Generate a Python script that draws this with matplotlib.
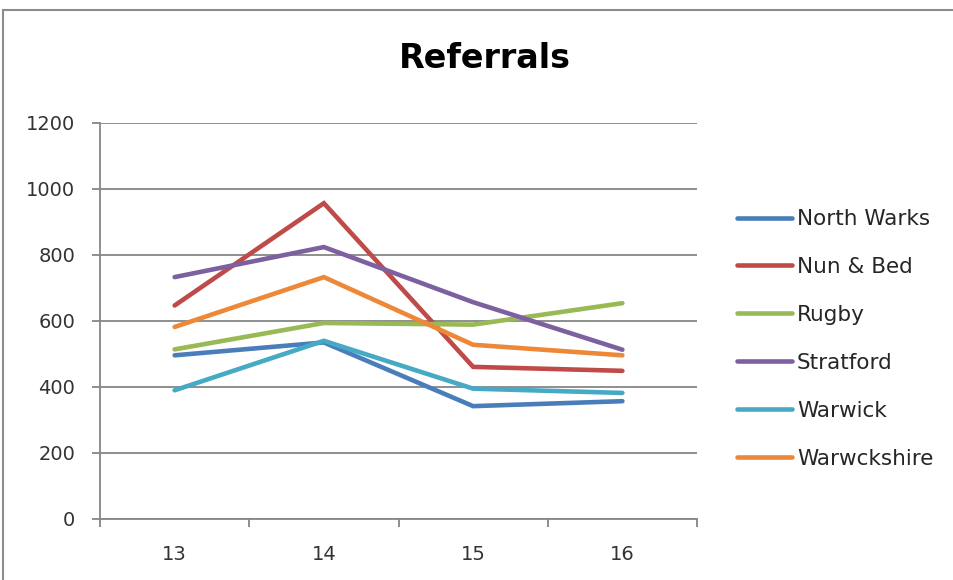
import matplotlib.pyplot as plt
from matplotlib.lines import Line2D

plt.rcParams['font.family'] = ['DejaVu Sans']

years = [13, 14, 15, 16]
north_warks = [496, 535, 342, 357]
nun_bed = [647, 957, 461, 449]
rugby = [514, 594, 589, 654]
stratford = [733, 824, 657, 513]
warwick = [390, 540, 395, 382]
warwickshire = [582, 733, 528, 496]

names = ["North Warks", "Nun & Bed", "Rugby", "Stratford", "Warwick", "Warwckshire"]
series = [north_warks, nun_bed, rugby, stratford, warwick, warwickshire]
colors = ['#4A7EBB', '#BE4B48', '#98B954', '#7D60A0', '#46AAC5', '#EC8838']

fig = plt.figure(figsize=(9.54, 5.8), dpi=100)
ax = fig.add_axes([100/954, 61/580, 597/954, 396/580])

for vals, name, c in zip(series, names, colors):
    ax.plot(years, vals, color=c, lw=3.3, label=name, solid_capstyle='round',
            solid_joinstyle='miter', zorder=3)

grid_c = '#868686'
ax.set_ylim(0, 1200)
ax.set_yticks(range(0, 1201, 200))
ax.yaxis.grid(True, color=grid_c, lw=1.3)
ax.set_axisbelow(True)

# category axis: ticks between categories, labels centred
ax.set_xlim(12.5, 16.5)
ax.set_xticks([12.5, 13.5, 14.5, 15.5, 16.5])
ax.set_xticklabels([])
ax.set_xticks(years, minor=True)
ax.set_xticklabels([str(y) for y in years], minor=True)
ax.tick_params(axis='x', which='minor', length=0, pad=19, labelsize=14, labelcolor='#333333')
ax.tick_params(axis='x', which='major', length=5.8, width=1.3, color=grid_c, direction='out')
ax.tick_params(axis='y', length=5.8, width=1.3, color=grid_c, direction='out',
               pad=12, labelsize=14, labelcolor='#333333')

for s in ['top', 'right']:
    ax.spines[s].set_visible(False)
for s in ['left', 'bottom']:
    ax.spines[s].set_color(grid_c)
    ax.spines[s].set_linewidth(1.3)

fig.suptitle('Referrals', x=485/954, y=1 - 42/580, va='top', fontsize=24, fontweight='bold')

leg = ax.legend(loc='center left', bbox_to_anchor=(737/954, 1 - 339/580),
                bbox_transform=fig.transFigure, frameon=False, fontsize=15.5,
                handlelength=2.55, handletextpad=0.23, labelspacing=1.3,
                borderpad=0, borderaxespad=0)
for t in leg.get_texts():
    t.set_color('#262626')

# chart border (only top and left are inside the picture)
fig.add_artist(Line2D([3/954, 1.05], [1 - 10/580, 1 - 10/580], color='#8c8c8c', lw=1.5,
                      transform=fig.transFigure))
fig.add_artist(Line2D([3/954, 3/954], [-0.05, 1 - 10/580], color='#8c8c8c', lw=1.5,
                      transform=fig.transFigure))

fig.savefig('out.png', dpi=100)
